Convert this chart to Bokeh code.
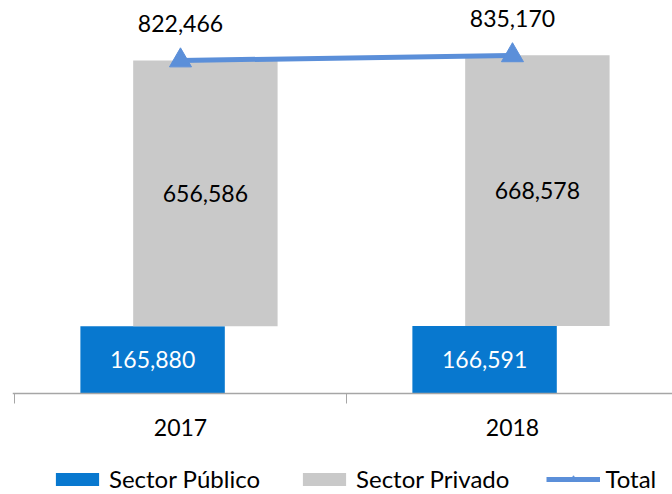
from bokeh.plotting import figure
from bokeh.models import (Range1d, FixedTicker, Legend, LegendItem, ColumnDataSource)
from bokeh.core.properties import value
from bokeh.embed import file_html
from bokeh.resources import INLINE

years = ["2017", "2018"]
publico = [165880, 166591]
privado = [656586, 668578]
total = [822466, 835170]

FONT = "Lato"
FS = "23px"
BLUE = "#0878CF"
GRAY = "#C9C9C9"
LINE = "#5B8FD9"

xc = [i + 1 for i in range(len(years))]
src = ColumnDataSource(dict(
    x=xc,
    xpub=[x - 0.084 for x in xc],
    xpriv=[x + 0.075 for x in xc],
    pub=publico,
    priv_top=[a + b for a, b in zip(publico, privado)],
    pub_mid=[a / 2 for a in publico],
    priv_mid=[a + b / 2 for a, b in zip(publico, privado)],
    pub_lbl=[f"{v:,}" for v in publico],
    priv_lbl=[f"{v:,}" for v in privado],
    total=total,
    tot_lbl=[f"{v:,}" for v in total],
))

p = figure(width=672, height=494, output_backend="svg", toolbar_location=None,
           x_range=Range1d(0.494, 2.482), y_range=Range1d(-249470, 970710),
           y_axis_location=None, min_border_left=12, min_border_right=0,
           min_border_top=0, min_border_bottom=0)
p.outline_line_color = None
p.grid.grid_line_color = None
p.background_fill_color = "white"
p.border_fill_color = "white"

r_pub = p.vbar(x="xpub", width=0.435, bottom=0, top="pub", source=src,
               fill_color=BLUE, line_color=None)
r_priv = p.vbar(x="xpriv", width=0.435, bottom="pub", top="priv_top", source=src,
                fill_color=GRAY, line_color=None)
r_line = p.line(x="x", y="total", source=src, line_color=LINE, line_width=5)
r_mark = p.scatter(x="x", y="total", source=src, marker="triangle", size=22,
                   fill_color=LINE, line_color=LINE)

p.text(x="xpub", y="pub_mid", text="pub_lbl", source=src, text_color="white",
       text_font=value(FONT), text_font_size=FS, text_align="center",
       text_baseline="middle")
p.text(x="xpriv", y="priv_mid", text="priv_lbl", source=src, text_color="black",
       text_font=value(FONT), text_font_size=FS, text_align="center",
       text_baseline="middle")
p.text(x="x", y="total", text="tot_lbl", source=src, text_color="black",
       text_font=value(FONT), text_font_size=FS, text_align="center",
       text_baseline="middle", y_offset=-37)

ax = p.xaxis[0]
ax.fixed_location = 0
ax.ticker = FixedTicker(ticks=xc, minor_ticks=[0.5, 1.5, 2.5])
ax.major_label_overrides = {x: y for x, y in zip(xc, years)}
ax.major_tick_line_color = None
ax.major_tick_out = 0
ax.major_tick_in = 0
ax.minor_tick_out = 10
ax.minor_tick_in = 0
ax.minor_tick_line_color = "#A6A6A6"
ax.axis_line_color = "#A6A6A6"
ax.axis_line_width = 1.5
ax.major_label_standoff = 15
ax.major_label_text_font = FONT
ax.major_label_text_font_size = FS
ax.major_label_text_color = "black"

legend = Legend(items=[
    LegendItem(label="Sector Público", renderers=[r_pub]),
    LegendItem(label="Sector Privado", renderers=[r_priv]),
    LegendItem(label="Total", renderers=[r_line, r_mark]),
], orientation="horizontal", location=(38, 1),
    glyph_width=54, glyph_height=16, label_standoff=5, spacing=37,
    padding=0, margin=0, border_line_color=None, background_fill_alpha=0,
    label_text_font=FONT, label_text_font_size="24px", label_height=24,
    label_text_color="black")
p.add_layout(legend, "center")

open("out.html", "w").write(file_html(p, INLINE))
